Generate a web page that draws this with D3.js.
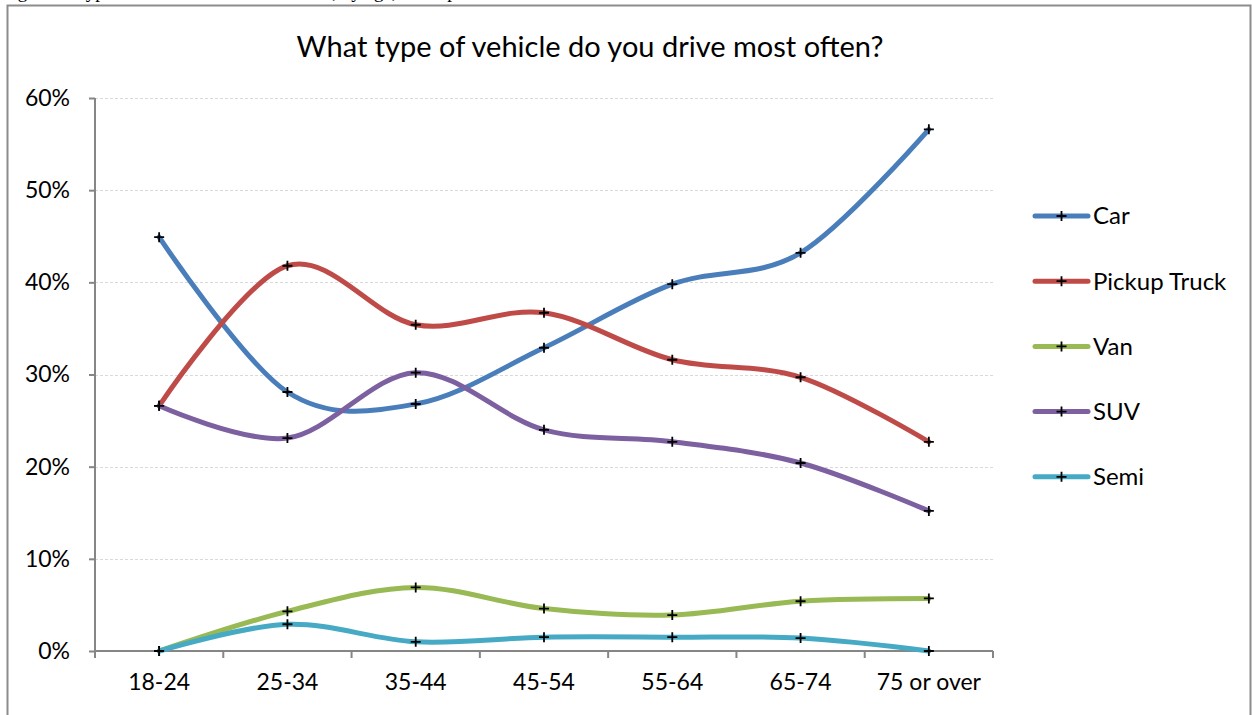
<!DOCTYPE html>
<html>
<head>
<meta charset="utf-8">
<script src="https://cdn.jsdelivr.net/npm/d3@7"></script>
<style>
  body { margin: 0; background: #fff; }
  svg { display: block; }
</style>
</head>
<body>
<div id="chart"></div>
<script>
var ageGroups = ["18-24", "25-34", "35-44", "45-54", "55-64", "65-74", "75 or over"];
var seriesNames = ["Car", "Pickup Truck", "Van", "SUV", "Semi"];
var carValues = [44.9, 28.1, 26.8, 32.9, 39.8, 43.2, 56.6];
var pickupValues = [26.6, 41.8, 35.4, 36.7, 31.6, 29.7, 22.7];
var vanValues = [0, 4.3, 6.9, 4.6, 3.9, 5.4, 5.7];
var suvValues = [26.6, 23.1, 30.2, 24.0, 22.7, 20.4, 15.2];
var semiValues = [0, 2.9, 1.0, 1.5, 1.5, 1.4, 0];
var yTicks = [0, 10, 20, 30, 40, 50, 60];
var colors = ["#4a7ebb", "#be4b48", "#98b954", "#7d60a0", "#46aac5"];

var allValues = [carValues, pickupValues, vanValues, suvValues, semiValues];
var series = seriesNames.map(function (name, i) {
    return { name: name, color: colors[i], values: allValues[i] };
});

var W = 1252, H = 715;
var margin = { top: 98, right: 259, bottom: 64, left: 95 },
    width = W - margin.left - margin.right,
    height = H - margin.top - margin.bottom;

var font = "Lato, 'Open Sans', sans-serif";

var svgRoot = d3.select("#chart").append("svg")
    .attr("width", W)
    .attr("height", H);

// caption above the frame, cropped by the top edge as in the source
svgRoot.append("text")
    .attr("x", 2)
    .attr("y", -2)
    .style("font-family", "'Liberation Serif', serif")
    .style("font-size", "19px")
    .attr("fill", "#000")
    .text("Figure 5: Type of vehicle driven most often, by age, all respondents");

// frame
svgRoot.append("path")
    .attr("d", "M7.5," + (H + 2) + "V5.5H1250.5V" + (H + 2))
    .attr("fill", "none")
    .attr("stroke", "#8c8c8c")
    .attr("stroke-width", 2);

svgRoot.append("text")
    .attr("x", 590)
    .attr("y", 57)
    .attr("text-anchor", "middle")
    .style("font-family", font)
    .style("font-size", "29px")
    .attr("fill", "#000")
    .text("What type of vehicle do you drive most often?");

var svg = svgRoot.append("g")
    .attr("transform", "translate(" + margin.left + "," + margin.top + ")");

var x = d3.scaleBand().domain(ageGroups).range([0, width]);
var y = d3.scaleLinear().domain([0, 60]).range([height, 0]);

// gridlines
svg.append("g")
    .selectAll("line")
    .data(yTicks.filter(function (d) { return d > 0; }))
    .enter()
    .append("line")
    .attr("x1", 0)
    .attr("x2", width)
    .attr("y1", function (d) { return Math.round(y(d)) + 0.5; })
    .attr("y2", function (d) { return Math.round(y(d)) + 0.5; })
    .attr("stroke", "#d9d9d9")
    .attr("stroke-dasharray", "3,2");

// y axis
var yAxis = svg.append("g")
    .call(d3.axisLeft(y).tickValues(yTicks).tickSize(6).tickPadding(19)
        .tickFormat(function (d) { return d + "%"; }));
yAxis.select(".domain").attr("stroke", "#868686").attr("stroke-width", 2)
    .attr("d", "M0," + (height + 7) + "V0");
yAxis.selectAll(".tick line").attr("stroke", "#868686").attr("stroke-width", 2);
yAxis.selectAll("text").style("font-family", font).style("font-size", "23px").attr("fill", "#000");

// x axis
var xAxis = svg.append("g")
    .attr("transform", "translate(0," + height + ")")
    .call(d3.axisBottom(x).tickSize(0).tickPadding(23));
xAxis.select(".domain").attr("stroke", "#868686").attr("stroke-width", 2)
    .attr("d", "M0,0H" + width);
xAxis.selectAll("text").style("font-family", font).style("font-size", "23px").attr("fill", "#000");
xAxis.append("g")
    .selectAll("line")
    .data(d3.range(ageGroups.length + 1))
    .enter()
    .append("line")
    .attr("x1", function (d) { return d * x.step(); })
    .attr("x2", function (d) { return d * x.step(); })
    .attr("y1", 0)
    .attr("y2", 7)
    .attr("stroke", "#868686")
    .attr("stroke-width", 2);

var cx = function (d, i) { return x(ageGroups[i]) + x.bandwidth() / 2; };

var line = d3.line()
    .x(function (d, i) { return cx(d, i); })
    .y(function (d) { return y(d); })
    .curve(d3.curveCatmullRom.alpha(0));

var plus = "M-5,0H5M0,-5V5";

var groups = svg.selectAll(".series")
    .data(series)
    .enter()
    .append("g")
    .attr("class", "series");

groups.append("path")
    .attr("d", function (d) { return line(d.values); })
    .attr("fill", "none")
    .attr("stroke", function (d) { return d.color; })
    .attr("stroke-width", 5)
    .attr("stroke-linecap", "round");

groups.each(function (s) {
    d3.select(this).selectAll("path.mark")
        .data(s.values)
        .enter()
        .append("path")
        .attr("class", "mark")
        .attr("d", plus)
        .attr("transform", function (d, i) {
            return "translate(" + cx(d, i) + "," + y(d) + ")";
        })
        .attr("stroke", "#000")
        .attr("stroke-width", 1.8);
});

// legend
var legend = svgRoot.append("g")
    .selectAll("g")
    .data(series)
    .enter()
    .append("g")
    .attr("transform", function (d, i) { return "translate(1035," + (216 + i * 65.2) + ")"; });

legend.append("line")
    .attr("x1", 0).attr("x2", 53)
    .attr("stroke", function (d) { return d.color; })
    .attr("stroke-width", 5)
    .attr("stroke-linecap", "round");
legend.append("path")
    .attr("d", plus)
    .attr("transform", "translate(26.5,0)")
    .attr("stroke", "#000")
    .attr("stroke-width", 1.8);
legend.append("text")
    .attr("x", 58)
    .attr("dy", "0.35em")
    .style("font-family", font)
    .style("font-size", "24px")
    .attr("fill", "#000")
    .text(function (d) { return d.name; });
</script>
</body>
</html>
